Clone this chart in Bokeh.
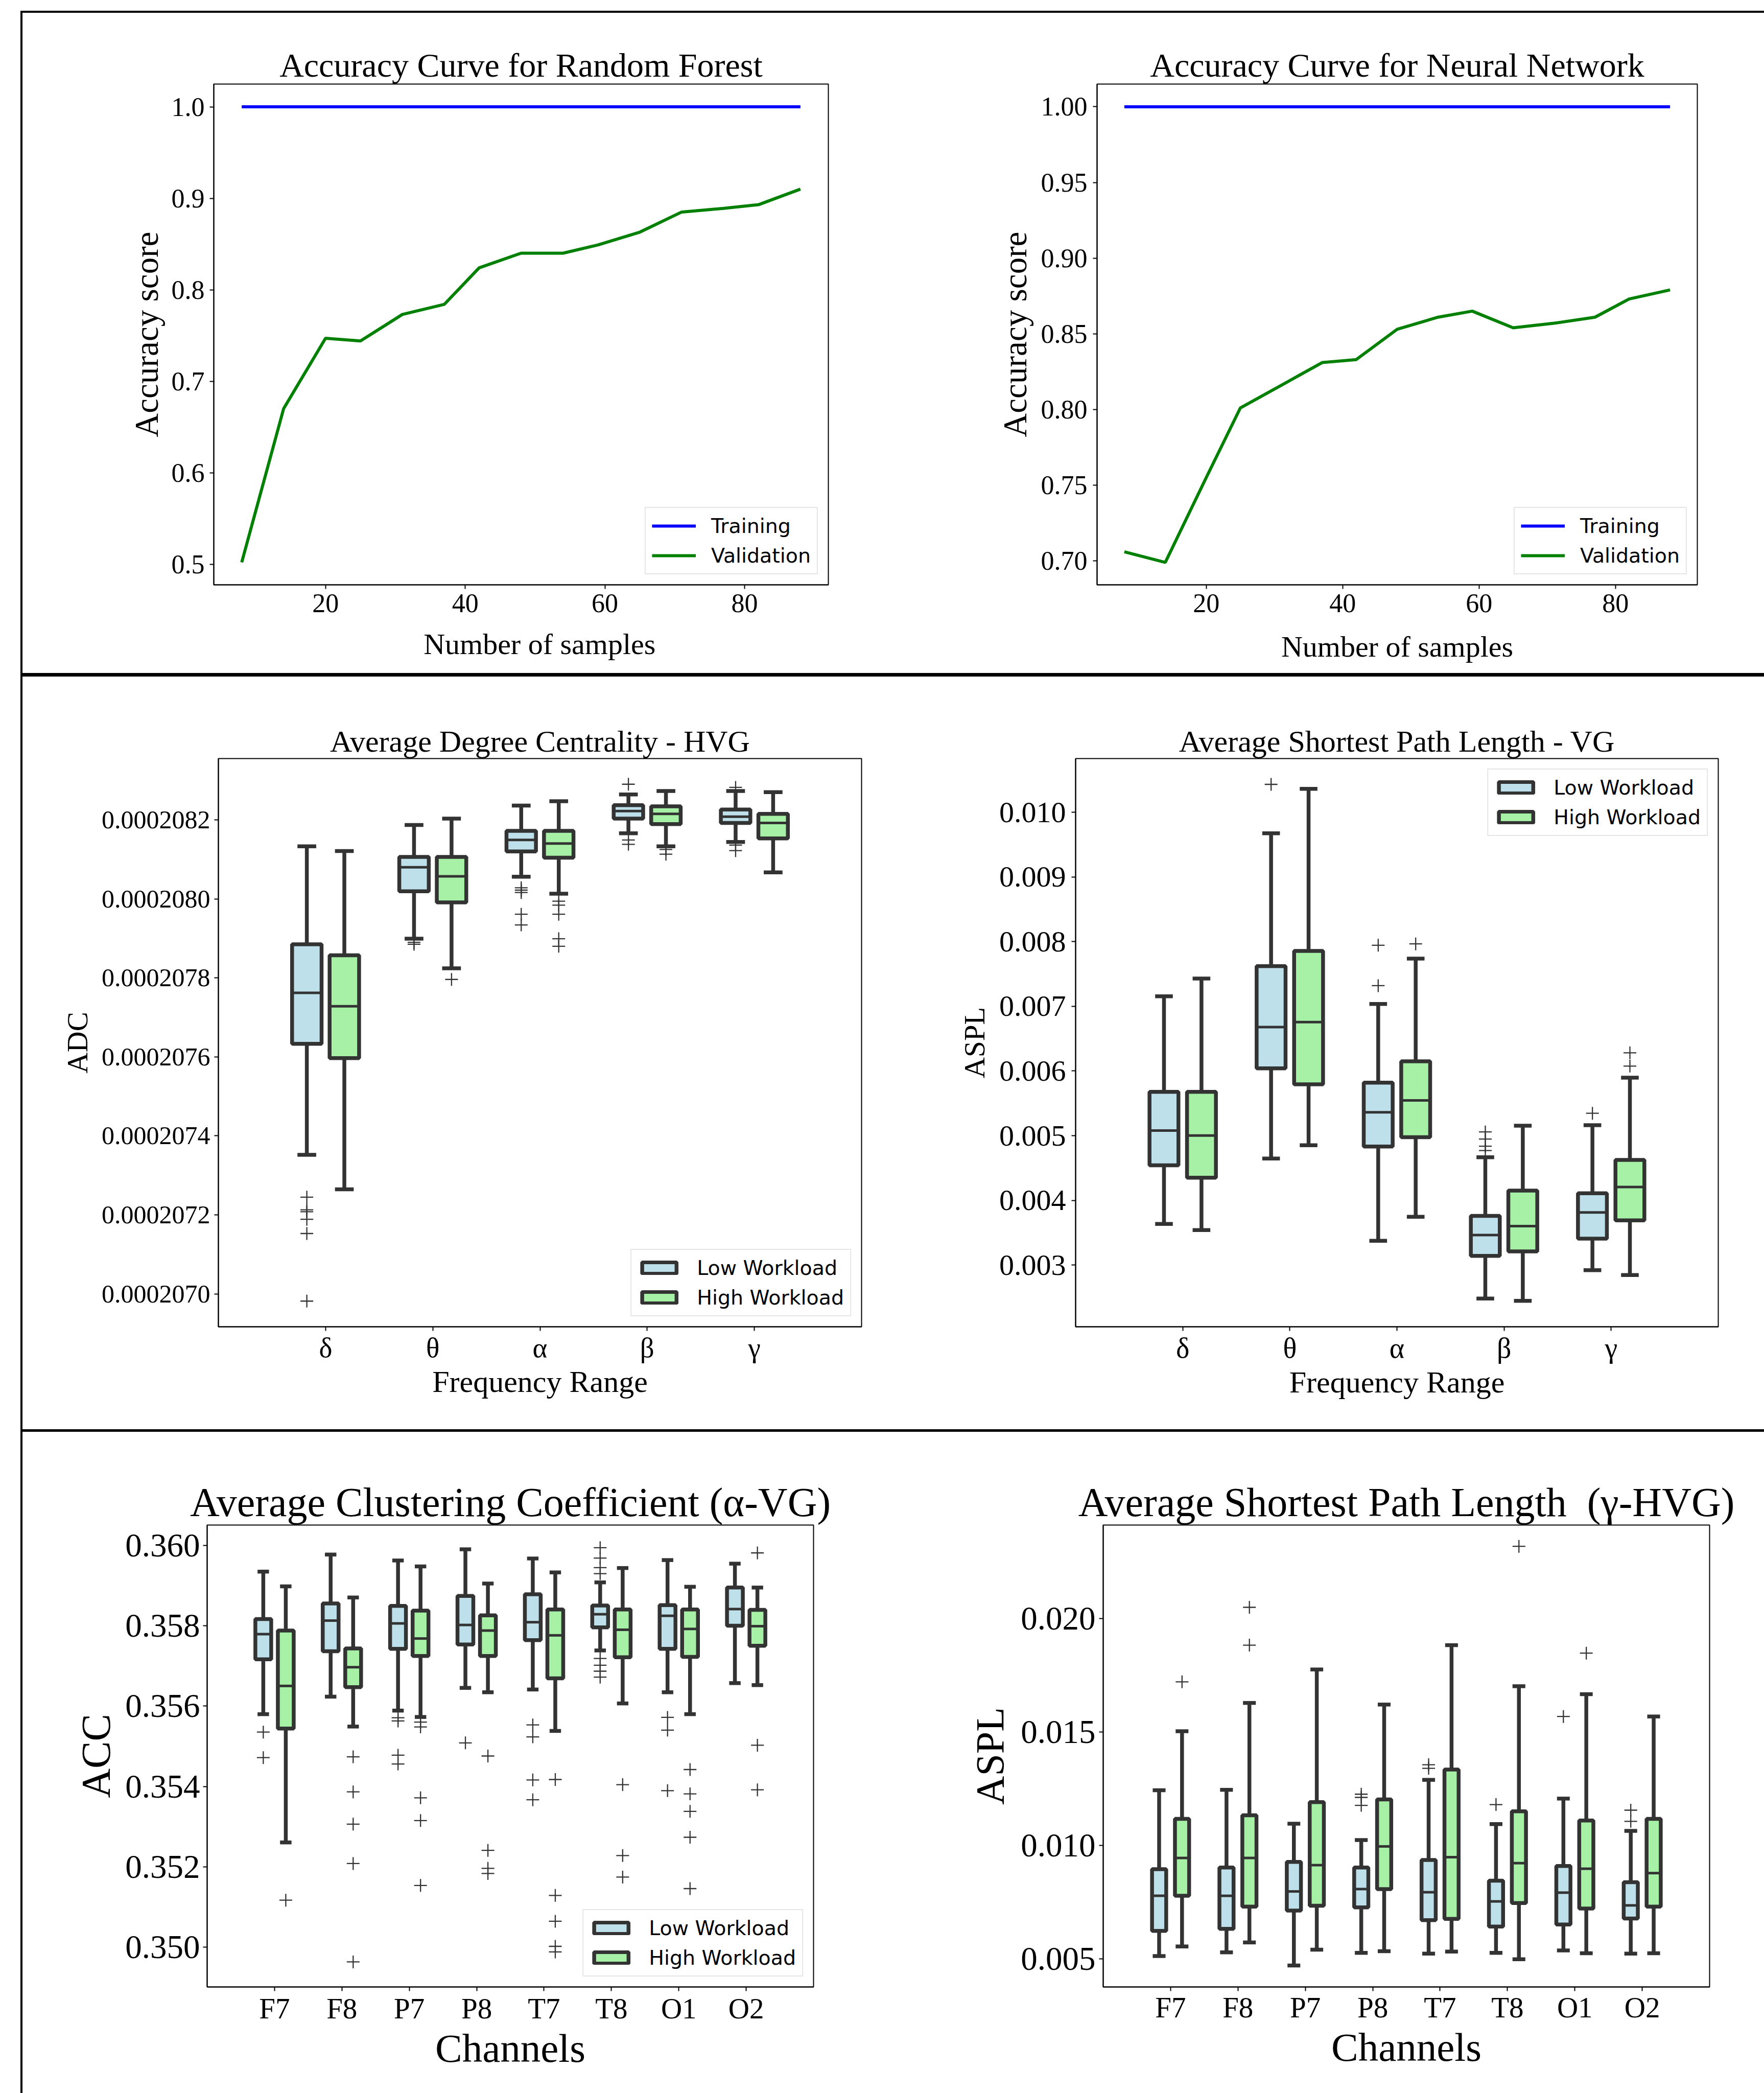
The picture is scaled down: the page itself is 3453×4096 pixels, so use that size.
from bokeh.plotting import figure
from bokeh.models import (Range1d, FixedTicker, PrintfTickFormatter, ColumnDataSource,
                          Legend, LegendItem, Div)
from bokeh.layouts import row, column
from bokeh.embed import file_html
from bokeh.resources import INLINE

SERIF = "Liberation Serif"
SANS = "DejaVu Sans"
EDGE = "#333333"
LOW_FILL = "#bde0eb"
HIGH_FILL = "#a6f1a6"
NB = "\u00a0"

# ---------------- data: learning curves ----------------
samples = [8, 14, 20, 25, 31, 37, 42, 48, 54, 59, 65, 71, 77, 82, 88]
rf_train = [1.0] * 15
rf_val = [0.502, 0.670, 0.747, 0.744, 0.773, 0.784, 0.824, 0.840, 0.840, 0.849,
          0.863, 0.885, 0.889, 0.893, 0.910]
nn_train = [1.0] * 15
nn_val = [0.706, 0.699, 0.755, 0.801, 0.816, 0.831, 0.833, 0.853, 0.861, 0.865,
          0.854, 0.857, 0.861, 0.873, 0.879]

bands = ["δ", "θ", "α", "β", "γ"]
channels = ["F7", "F8", "P7", "P8", "T7", "T8", "O1", "O2"]

# ---------------- data: ADC - HVG ----------------
adc_low_whislo = [2073.52e-7, 2078.99e-7, 2080.56e-7, 2081.66e-7, 2081.44e-7]
adc_low_q1 = [2076.33e-7, 2080.19e-7, 2081.20e-7, 2082.03e-7, 2081.92e-7]
adc_low_med = [2077.62e-7, 2080.80e-7, 2081.49e-7, 2082.22e-7, 2082.08e-7]
adc_low_q3 = [2078.85e-7, 2081.06e-7, 2081.72e-7, 2082.37e-7, 2082.26e-7]
adc_low_whishi = [2081.33e-7, 2081.87e-7, 2082.36e-7, 2082.64e-7, 2082.73e-7]
adc_low_out = [[2072.45e-7, 2072.13e-7, 2072.08e-7, 2071.89e-7, 2071.53e-7, 2069.82e-7],
               [2078.90e-7, 2078.85e-7],
               [2080.28e-7, 2080.22e-7, 2080.16e-7, 2079.61e-7, 2079.34e-7],
               [2082.90e-7, 2081.49e-7, 2081.38e-7],
               [2082.82e-7, 2081.36e-7, 2081.22e-7]]
adc_high_whislo = [2072.65e-7, 2078.24e-7, 2080.13e-7, 2081.33e-7, 2080.67e-7]
adc_high_q1 = [2075.97e-7, 2079.91e-7, 2081.04e-7, 2081.89e-7, 2081.53e-7]
adc_high_med = [2077.28e-7, 2080.57e-7, 2081.40e-7, 2082.15e-7, 2081.92e-7]
adc_high_q3 = [2078.57e-7, 2081.06e-7, 2081.72e-7, 2082.34e-7, 2082.15e-7]
adc_high_whishi = [2081.21e-7, 2082.03e-7, 2082.47e-7, 2082.73e-7, 2082.70e-7]
adc_high_out = [[], [2077.96e-7],
                [2079.94e-7, 2079.84e-7, 2079.61e-7, 2078.99e-7, 2078.80e-7],
                [2081.25e-7, 2081.13e-7], []]

# ---------------- data: ASPL - VG ----------------
vg_low_whislo = [0.003636, 0.004646, 0.003375, 0.002481, 0.002921]
vg_low_q1 = [0.004543, 0.006041, 0.004832, 0.003141, 0.003409]
vg_low_med = [0.005079, 0.006680, 0.005361, 0.003464, 0.003814]
vg_low_q3 = [0.005677, 0.007622, 0.005821, 0.003759, 0.004110]
vg_low_whishi = [0.007155, 0.009677, 0.007038, 0.004667, 0.005162]
vg_low_out = [[], [0.010433], [0.007945, 0.007320],
              [0.005058, 0.004948, 0.004838, 0.004770], [0.005347]]
vg_high_whislo = [0.003540, 0.004852, 0.003746, 0.002447, 0.002845]
vg_high_q1 = [0.004351, 0.005794, 0.004976, 0.003210, 0.003691]
vg_high_med = [0.005003, 0.006756, 0.005546, 0.003601, 0.004206]
vg_high_q3 = [0.005677, 0.007856, 0.006151, 0.004151, 0.004625]
vg_high_whishi = [0.007430, 0.010364, 0.007739, 0.005155, 0.005897]
vg_high_out = [[], [], [0.007966], [], [0.006282, 0.006076]]

# ---------------- data: ACC (alpha-VG) ----------------
acc_low_whislo = [0.355798, 0.356234, 0.355887, 0.356452, 0.356412, 0.357384, 0.356343, 0.356571]
acc_low_q1 = [0.357165, 0.357364, 0.357423, 0.357532, 0.357641, 0.357958, 0.357423, 0.358000]
acc_low_med = [0.357790, 0.358127, 0.358057, 0.358018, 0.358087, 0.358285, 0.358246, 0.358414]
acc_low_q3 = [0.358166, 0.358553, 0.358494, 0.358741, 0.358781, 0.358503, 0.358513, 0.358949]
acc_low_whishi = [0.359346, 0.359772, 0.359623, 0.359901, 0.359673, 0.359078, 0.359633, 0.359544]
acc_low_out = [[0.355352, 0.354717], [],
               [0.355709, 0.355629, 0.354777, 0.354559], [0.355084],
               [0.355530, 0.355233, 0.354162, 0.353667],
               [0.359941, 0.359683, 0.359445, 0.359296, 0.357185, 0.357017, 0.356868, 0.356719],
               [0.355718, 0.355401, 0.353895], []]
acc_high_whislo = [0.352606, 0.355490, 0.355728, 0.356343, 0.355381, 0.356065, 0.355798, 0.356521]
acc_high_q1 = [0.355441, 0.356472, 0.357245, 0.357245, 0.356690, 0.357215, 0.357225, 0.357502]
acc_high_med = [0.356501, 0.356967, 0.357681, 0.357879, 0.357760, 0.357899, 0.357919, 0.357988]
acc_high_q3 = [0.357879, 0.357433, 0.358375, 0.358256, 0.358404, 0.358404, 0.358404, 0.358394]
acc_high_whishi = [0.358979, 0.358702, 0.359475, 0.359049, 0.359326, 0.359435, 0.358969, 0.358949]
acc_high_out = [[0.351169], [0.354737, 0.353865, 0.353062, 0.352081, 0.349633],
                [0.355600, 0.355481, 0.353716, 0.353151, 0.351536],
                [0.354757, 0.352408, 0.351962, 0.351833],
                [0.354172, 0.351288, 0.350644, 0.350020, 0.349881],
                [0.354044, 0.352279, 0.351744],
                [0.354420, 0.353815, 0.353379, 0.352735, 0.351457],
                [0.359812, 0.355025, 0.353915]]

# ---------------- data: ASPL (gamma-HVG) ----------------
hvg_low_whislo = [0.005118, 0.005276, 0.004696, 0.005258, 0.005223, 0.005258, 0.005364, 0.005223]
hvg_low_q1 = [0.006224, 0.006312, 0.007120, 0.007260, 0.006698, 0.006417, 0.006505, 0.006769]
hvg_low_med = [0.007770, 0.007770, 0.007963, 0.008068, 0.007928, 0.007524, 0.007910, 0.007348]
hvg_low_q3 = [0.008946, 0.009017, 0.009262, 0.009017, 0.009350, 0.008437, 0.009087, 0.008367]
hvg_low_whishi = [0.012424, 0.012441, 0.010948, 0.010228, 0.012880, 0.010931, 0.012055, 0.010632]
hvg_low_out = [[], [], [], [0.012248, 0.012107, 0.011756], [0.013548, 0.013389],
               [0.011791], [0.015673], [0.011545, 0.011054]]
hvg_high_whislo = [0.005539, 0.005715, 0.005399, 0.005329, 0.005311, 0.004977, 0.005241, 0.005241]
hvg_high_q1 = [0.007770, 0.007295, 0.007331, 0.008068, 0.006751, 0.007454, 0.007208, 0.007295]
hvg_high_med = [0.009438, 0.009438, 0.009122, 0.009947, 0.009473, 0.009210, 0.008964, 0.008771]
hvg_high_q3 = [0.011159, 0.011317, 0.011897, 0.012020, 0.013337, 0.011493, 0.011089, 0.011159]
hvg_high_whishi = [0.015023, 0.016270, 0.017745, 0.016199, 0.018816, 0.017007, 0.016656, 0.015673]
hvg_high_out = [[0.017200], [0.020485, 0.018816], [], [], [], [0.023172], [0.018465], []]


# ---------------- helpers ----------------
def make_fig(w, h, bl, br, bt, bb, xr, yr, title, title_fs):
    p = figure(width=w, height=h, x_range=Range1d(*xr), y_range=Range1d(*yr),
               toolbar_location=None, output_backend="svg", title=title,
               min_border_left=bl, min_border_right=br, min_border_top=bt,
               min_border_bottom=bb)
    p.title.text_font = SERIF
    p.title.text_font_style = "normal"
    p.title.text_font_size = f"{title_fs}px"
    p.title.text_color = "black"
    p.title.align = "center"
    p.title.standoff = 2
    p.grid.visible = False
    p.outline_line_color = "black"
    p.outline_line_width = 2
    p.background_fill_color = "white"
    p.border_fill_color = "white"
    for ax in list(p.xaxis) + list(p.yaxis):
        ax.major_label_text_font = SERIF
        ax.axis_label_text_font = SERIF
        ax.axis_label_text_font_style = "normal"
        ax.minor_tick_line_color = None
        ax.major_tick_in = 0
        ax.major_tick_out = 8
        ax.major_tick_line_width = 2
        ax.axis_line_width = 2
        ax.axis_line_color = "black"
        ax.major_tick_line_color = "black"
        ax.major_label_text_color = "black"
        ax.axis_label_text_color = "black"
    return p


def set_axes(p, xticks, yticks, yfmt, xfs, yfs, xlab, ylab, xlfs, ylfs,
             ystand, ylabstand, xstand=2, xlabstand=8, xover=None):
    xa, ya = p.xaxis[0], p.yaxis[0]
    xa.ticker = FixedTicker(ticks=xticks)
    ya.ticker = FixedTicker(ticks=yticks)
    ya.formatter = PrintfTickFormatter(format=yfmt)
    if xover is not None:
        xa.major_label_overrides = xover
    xa.major_label_text_font_size = f"{xfs}px"
    ya.major_label_text_font_size = f"{yfs}px"
    xa.axis_label = xlab
    ya.axis_label = ylab
    xa.axis_label_text_font_size = f"{xlfs}px"
    ya.axis_label_text_font_size = f"{ylfs}px"
    xa.major_label_standoff = xstand
    ya.major_label_standoff = ystand
    xa.axis_label_standoff = xlabstand
    ya.axis_label_standoff = ylabstand


def add_legend(p, items, loc, gw, gh, stand):
    lg = Legend(items=items, location=loc, margin=20, padding=12, spacing=12,
                label_text_font=SANS, label_text_font_size="39.5px",
                label_text_color="black",
                glyph_width=gw, glyph_height=gh, label_standoff=stand,
                border_line_color="#cccccc", border_line_width=2,
                background_fill_color="white", background_fill_alpha=0.8)
    p.add_layout(lg, "center")


def add_boxes(p, n, offset, bw, capw, whislo, q1, med, q3, whishi, outliers, fill):
    xs = [i + offset for i in range(n)]
    src = ColumnDataSource(dict(
        x=xs, left=[x - bw / 2 for x in xs], right=[x + bw / 2 for x in xs],
        cl=[x - capw / 2 for x in xs], cr=[x + capw / 2 for x in xs],
        lo=whislo, q1=q1, med=med, q3=q3, hi=whishi))
    kw = dict(line_color=EDGE, line_width=7.5)
    p.segment(x0="x", y0="q3", x1="x", y1="hi", source=src, **kw)
    p.segment(x0="x", y0="q1", x1="x", y1="lo", source=src, **kw)
    p.segment(x0="cl", y0="hi", x1="cr", y1="hi", source=src, **kw)
    p.segment(x0="cl", y0="lo", x1="cr", y1="lo", source=src, **kw)
    box = p.quad(left="left", right="right", bottom="q1", top="q3", source=src,
                 fill_color=fill, **kw)
    p.segment(x0="left", y0="med", x1="right", y1="med", source=src,
              line_color=EDGE, line_width=5)
    ox = [xs[i] for i, vals in enumerate(outliers) for v in vals]
    oy = [v for vals in outliers for v in vals]
    p.scatter(ox, oy, marker="cross", size=25, line_color=EDGE, line_width=2.3)
    return box


def blk(w, h):
    return Div(text="", width=w, height=h, margin=0,
               styles={"background-color": "black"})


def gap(w, h):
    return Div(text="", width=w, height=h, margin=0)


# ---------------- panel 1 ----------------
p1 = make_fig(1686, 1292, 374, 109, 139, 173, (4, 92), (0.4774, 1.0249),
              "Accuracy Curve for Random Forest", 66)
set_axes(p1, [20, 40, 60, 80], [0.5, 0.6, 0.7, 0.8, 0.9, 1.0], "%.1f", 52, 52,
         NB * 5 + "Number of samples", "Accuracy score", 58, 65, ystand=10,
         ylabstand=10, xstand=10, xlabstand=27)
r1a = p1.line(samples, rf_train, line_color="#0000ff", line_width=6)
r1b = p1.line(samples, rf_val, line_color="#008000", line_width=6)
add_legend(p1, [LegendItem(label="Training", renderers=[r1a]),
                LegendItem(label="Validation", renderers=[r1b])],
           "bottom_right", 86, 28, 30)

# ---------------- panel 2 ----------------
p2 = make_fig(1723, 1292, 417, 131, 139, 173, (4, 92), (0.6842, 1.0150),
              "Accuracy Curve for Neural Network", 66)
set_axes(p2, [20, 40, 60, 80], [0.70, 0.75, 0.80, 0.85, 0.90, 0.95, 1.00], "%.2f",
         52, 52, "Number of samples", "Accuracy score", 58, 65, ystand=11,
         ylabstand=12, xstand=10, xlabstand=32)
r2a = p2.line(samples, nn_train, line_color="#0000ff", line_width=6)
r2b = p2.line(samples, nn_val, line_color="#008000", line_width=6)
add_legend(p2, [LegendItem(label="Training", renderers=[r2a]),
                LegendItem(label="Validation", renderers=[r2b])],
           "bottom_right", 86, 28, 30)

# ---------------- panel 3 ----------------
p3 = make_fig(1686, 1473, 383, 44, 160, 201, (-1, 5), (2069.17e-7, 2083.55e-7),
              "Average Degree Centrality - HVG", 60)
set_axes(p3, list(range(5)), [v * 1e-7 for v in range(2070, 2083, 2)], "%.7f",
         55, 50, "Frequency Range", "ADC", 60, 57, ystand=8, ylabstand=13,
         xstand=2, xlabstand=0, xover={i: b for i, b in enumerate(bands)})
b3l = add_boxes(p3, 5, -0.175, 0.275, 0.175, adc_low_whislo, adc_low_q1, adc_low_med,
                adc_low_q3, adc_low_whishi, adc_low_out, LOW_FILL)
b3h = add_boxes(p3, 5, 0.175, 0.275, 0.175, adc_high_whislo, adc_high_q1, adc_high_med,
                adc_high_q3, adc_high_whishi, adc_high_out, HIGH_FILL)
add_legend(p3, [LegendItem(label="Low Workload", renderers=[b3l]),
                LegendItem(label="High Workload", renderers=[b3h])],
           "bottom_right", 84, 28, 32)

# ---------------- panel 4 ----------------
p4 = make_fig(1723, 1473, 375, 90, 160, 201, (-1, 5), (0.002045, 0.010832),
              "Average Shortest Path Length - VG", 60)
set_axes(p4, list(range(5)), [0.003, 0.004, 0.005, 0.006, 0.007, 0.008, 0.009, 0.010],
         "%.3f", 56, 58, "Frequency Range", "ASPL", 60, 57, ystand=11, ylabstand=14,
         xstand=2, xlabstand=0, xover={i: b for i, b in enumerate(bands)})
b4l = add_boxes(p4, 5, -0.175, 0.27, 0.165, vg_low_whislo, vg_low_q1, vg_low_med,
                vg_low_q3, vg_low_whishi, vg_low_out, LOW_FILL)
b4h = add_boxes(p4, 5, 0.175, 0.27, 0.165, vg_high_whislo, vg_high_q1, vg_high_med,
                vg_high_q3, vg_high_whishi, vg_high_out, HIGH_FILL)
add_legend(p4, [LegendItem(label="Low Workload", renderers=[b4l]),
                LegendItem(label="High Workload", renderers=[b4h])],
           "top_right", 84, 28, 32)

# ---------------- panel 5 ----------------
p5 = make_fig(1686, 1294, 361, 138, 182, 208, (-1, 8), (0.349009, 0.360505),
              "Average Clustering Coefficient (α-VG)", 80)
set_axes(p5, list(range(8)), [0.350, 0.352, 0.354, 0.356, 0.358, 0.360], "%.3f",
         57, 65, "Channels", "ACC", 79, 80, ystand=6, ylabstand=10,
         xstand=2, xlabstand=0, xover={i: c for i, c in enumerate(channels)})
b5l = add_boxes(p5, 8, -0.167, 0.235, 0.17, acc_low_whislo, acc_low_q1, acc_low_med,
                acc_low_q3, acc_low_whishi, acc_low_out, LOW_FILL)
b5h = add_boxes(p5, 8, 0.167, 0.235, 0.17, acc_high_whislo, acc_high_q1, acc_high_med,
                acc_high_q3, acc_high_whishi, acc_high_out, HIGH_FILL)
add_legend(p5, [LegendItem(label="Low Workload", renderers=[b5l]),
                LegendItem(label="High Workload", renderers=[b5h])],
           "bottom_right", 84, 28, 32)

# ---------------- panel 6 ----------------
p6 = make_fig(1723, 1294, 429, 107, 182, 208, (-1, 8), (0.003753, 0.024110),
              "Average Shortest Path Length " + NB + "(γ-HVG)", 80)
set_axes(p6, list(range(8)), [0.005, 0.010, 0.015, 0.020], "%.3f",
         57, 65, "Channels", "ASPL", 79, 78, ystand=7, ylabstand=14,
         xstand=0, xlabstand=0, xover={i: c for i, c in enumerate(channels)})
add_boxes(p6, 8, -0.17, 0.21, 0.19, hvg_low_whislo, hvg_low_q1, hvg_low_med,
          hvg_low_q3, hvg_low_whishi, hvg_low_out, LOW_FILL)
add_boxes(p6, 8, 0.17, 0.21, 0.19, hvg_high_whislo, hvg_high_q1, hvg_high_med,
          hvg_high_q3, hvg_high_whishi, hvg_high_out, HIGH_FILL)

# ---------------- layout with frame lines ----------------
W = 3453
LG = 40
layout = column(
    gap(W, 21),
    row(gap(LG, 4), blk(W - LG, 4)),
    row(gap(LG, 1292), blk(4, 1292), p1, p2),
    row(gap(LG, 7), blk(W - LG, 7)),
    row(gap(LG, 1473), blk(4, 1473), p3, p4),
    row(gap(LG, 5), blk(W - LG, 5)),
    row(gap(LG, 1294), blk(4, 1294), p5, p6),
)

open("out.html", "w").write(file_html(layout, INLINE))
